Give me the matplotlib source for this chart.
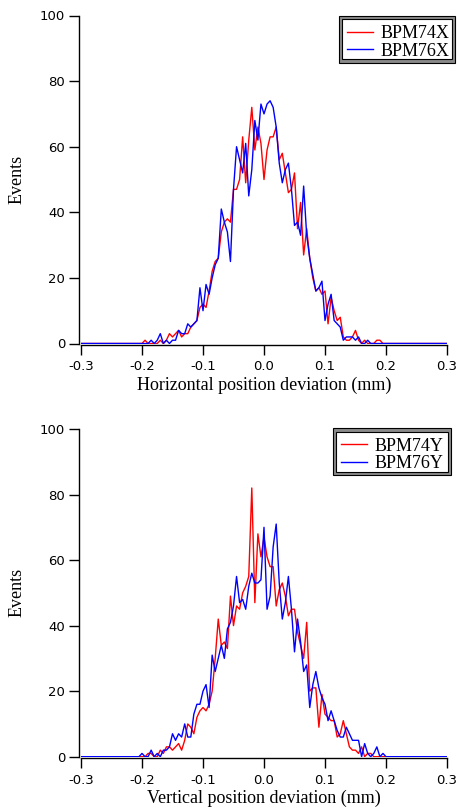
import numpy as np
import matplotlib
matplotlib.use("Agg")
import matplotlib.pyplot as plt
from matplotlib.patches import Rectangle
from matplotlib.lines import Line2D
from matplotlib.ticker import FormatStrFormatter, MultipleLocator

plt.rcParams['axes.unicode_minus'] = False

# bin centres (mm), 0.005 mm bins from -0.3 to 0.3
x = np.round(np.arange(-0.3, 0.3001, 0.005), 3)
pad = [0] * 20  # empty bins beyond +-0.2 mm

# counts for bins -0.200 ... +0.200
bpm74x = [0, 1, 0, 0, 0, 0, 1, 0, 1, 3,
          2, 3, 4, 2, 3, 3, 5, 6, 7, 11,
          12, 11, 16, 22, 25, 26, 34, 37, 38, 37,
          47, 47, 50, 63, 49, 62, 72, 59, 66, 61,
          50, 59, 63, 63, 66, 56, 58, 52, 46, 47,
          52, 35, 43, 27, 35, 26, 20, 16, 17, 15,
          16, 6, 14, 10, 7, 8, 2, 1, 1, 2,
          4, 1, 0, 1, 0, 0, 0, 1, 1, 0, 0]
bpm76x = [0, 0, 0, 1, 0, 1, 3, 0, 1, 0,
          1, 1, 4, 3, 3, 6, 5, 6, 7, 17,
          10, 18, 15, 20, 24, 26, 41, 37, 34, 25,
          47, 60, 56, 52, 61, 45, 53, 68, 62, 73,
          70, 73, 74, 72, 66, 55, 49, 53, 55, 47,
          36, 37, 33, 48, 33, 26, 21, 16, 17, 19,
          7, 12, 15, 7, 6, 5, 1, 2, 2, 2,
          1, 2, 0, 0, 1, 0, 0, 0, 0, 0, 0]
bpm74y = [0, 0, 1, 1, 0, 0, 2, 1, 3, 3,
          2, 3, 4, 2, 5, 10, 9, 7, 12, 14,
          15, 14, 16, 20, 30, 42, 34, 35, 33, 49,
          40, 46, 45, 50, 52, 55, 82, 47, 68, 61,
          67, 61, 58, 58, 46, 51, 53, 49, 43, 45,
          45, 38, 34, 30, 41, 20, 21, 21, 9, 19,
          13, 12, 11, 11, 6, 7, 11, 7, 3, 2,
          2, 1, 3, 0, 1, 1, 0, 0, 0, 0, 0]
bpm76y = [1, 0, 0, 2, 0, 1, 0, 2, 2, 3,
          7, 5, 7, 6, 10, 6, 6, 13, 16, 16,
          20, 22, 15, 31, 26, 30, 34, 30, 39, 41,
          46, 55, 47, 48, 45, 52, 56, 53, 53, 54,
          70, 45, 49, 64, 71, 53, 42, 47, 55, 45,
          32, 42, 35, 26, 28, 15, 22, 26, 21, 18,
          16, 11, 14, 11, 8, 6, 6, 9, 7, 5,
          5, 5, 0, 4, 1, 0, 1, 3, 0, 1, 0]

panels = [
    (bpm74x, bpm76x, "BPM74X", "BPM76X", "Horizontal position deviation (mm)"),
    (bpm74y, bpm76y, "BPM74Y", "BPM76Y", "Vertical position deviation (mm)"),
]

W, H = 460, 808
fig = plt.figure(figsize=(W / 100, H / 100), dpi=100)

def fx(px):
    return px / W

def fy(py):
    return 1 - py / H

serif = "Liberation Serif"
ax_boxes = [(81, 15.5, 447, 343.5), (81, 429, 447, 756.7)]
legend_boxes = [(339, 16, 455, 62.7), (333, 428.3, 451, 475)]

for (a, b, la, lb, xlabel), (x0, y0, x1, y1), (lx0, ly0, lx1, ly1) in zip(panels, ax_boxes, legend_boxes):
    ax = fig.add_axes([fx(x0), fy(y1), fx(x1) - fx(x0), fy(y0) - fy(y1)])
    ax.plot(x, pad + a + pad, color="#ff0000", lw=1.0)
    ax.plot(x, pad + b + pad, color="#0000ff", lw=1.0)
    ax.set_xlim(-0.3, 0.3)
    ax.set_ylim(0, 100)
    ax.xaxis.set_major_locator(MultipleLocator(0.1))
    ax.xaxis.set_major_formatter(FormatStrFormatter('%.1f'))
    ax.yaxis.set_major_locator(MultipleLocator(20))
    for s in ("top", "right"):
        ax.spines[s].set_visible(False)
    ax.spines["left"].set_position(("outward", 1.5))
    ax.spines["bottom"].set_position(("outward", 1.2))
    for s in ("left", "bottom"):
        ax.spines[s].set_linewidth(1.0)
    ax.tick_params(direction="out", length=7, width=1.0, labelsize=9.5, pad=3)
    ax.tick_params(axis="x", pad=4)
    ax.set_xlabel(xlabel, family=serif, fontsize=13, labelpad=2.5)
    ax.set_ylabel("Events", family=serif, fontsize=13, labelpad=10)
    ax.patch.set_alpha(0)

    # Igor-style double-framed legend
    fig.add_artist(Rectangle((fx(lx0), fy(ly1)), fx(lx1) - fx(lx0), fy(ly0) - fy(ly1),
                             transform=fig.transFigure, facecolor="#8a8a8a",
                             edgecolor="black", lw=0.8))
    fig.add_artist(Rectangle((fx(lx0 + 3.3), fy(ly1 - 3.3)), fx(lx1 - lx0 - 6.6), fy(ly0) - fy(ly1 - 6.6),
                             transform=fig.transFigure, facecolor="white",
                             edgecolor="black", lw=0.8))
    for i, (lab, col) in enumerate([(la, "#ff0000"), (lb, "#0000ff")]):
        ry = ly0 + 15.7 + 17.5 * i
        fig.add_artist(Line2D([fx(lx0 + 8), fx(lx0 + 34)], [fy(ry), fy(ry)],
                              transform=fig.transFigure, color=col, lw=1.0))
        fig.text(fx(lx0 + 42), fy(ry), lab, family=serif, fontsize=13,
                 ha="left", va="center_baseline")

fig.savefig("out.png", dpi=100)
